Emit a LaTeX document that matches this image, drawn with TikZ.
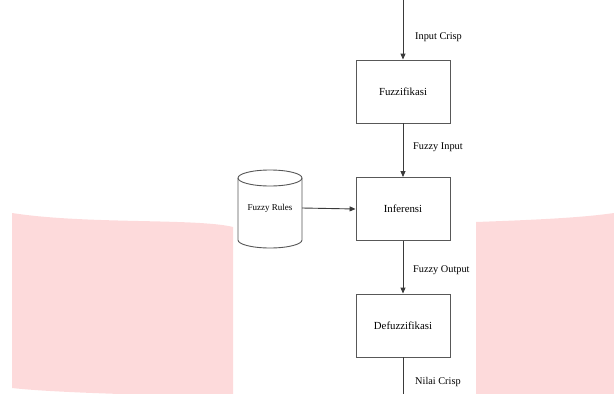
\documentclass[tikz,border=0pt]{standalone}
\usepackage{fontspec}
\setmainfont{Liberation Serif}
\usetikzlibrary{arrows.meta}
\definecolor{pinkbg}{HTML}{FDDADB}
\definecolor{lineg}{HTML}{3A3A3A}
\tikzset{
  procbox/.style={draw=lineg!85, line width=0.9pt, minimum width=94pt, minimum height=63pt, inner sep=0pt, font=\fontsize{10.8}{12}\selectfont},
  flow/.style={draw=lineg, line width=0.9pt, -{Triangle[length=6pt,width=5pt]}},
  plain/.style={draw=lineg, line width=0.9pt},
  lbl/.style={anchor=west, inner sep=0pt, font=\fontsize{10.3}{12}\selectfont}
}
\begin{document}
\begin{tikzpicture}[x=1pt,y=-1pt]
\useasboundingbox (0,0) rectangle (614,394);
% pink background shapes
\fill[pinkbg] (12,213) .. controls (70,222) and (150,220) .. (200,223) .. controls (215,224) and (225,225) .. (233,227) -- (233,394) -- (120,394) .. controls (60,392) and (30,390) .. (12,388) -- cycle;
\fill[pinkbg] (476,222) .. controls (530,220) and (580,218) .. (614,213) -- (614,394) -- (476,394) -- cycle;
% nodes
\node[procbox] (fuzz) at (403,91.5) {Fuzzifikasi};
\node[procbox] (inf) at (403,209) {Inferensi};
\node[procbox] (defuzz) at (403,325.5) {Defuzzifikasi};
\coordinate (top) at (403,0);
\coordinate (bot) at (403,394);
% cylinder
\fill[white] (238,178) -- (238,240) arc[start angle=180,end angle=360,x radius=32pt,y radius=8pt] -- (302,178) arc[start angle=0,end angle=180,x radius=32pt,y radius=8pt] -- cycle;
\draw[lineg!85, line width=0.9pt] (238,178) -- (238,240) arc[start angle=180,end angle=360,x radius=32pt,y radius=8pt] -- (302,178);
\draw[lineg!85, line width=0.9pt] (270,178) ellipse[x radius=32pt,y radius=8pt];
\node[minimum width=64pt, minimum height=20pt, inner sep=0pt, font=\fontsize{9}{10}\selectfont] (rules) at (270,208) {Fuzzy Rules};
% connectors
\draw[flow] (top) -- (fuzz.north);
\draw[flow] (fuzz.south) -- (inf.north);
\draw[flow] (inf.south) -- (defuzz.north);
\draw[plain] (defuzz.south) -- (bot);
\draw[flow] (rules.east) -- (inf.west);
% labels
\node[lbl] (l1) at (415,37) {Input Crisp};
\node[lbl] (l2) at (413,147) {Fuzzy Input};
\node[lbl] (l3) at (413,270) {Fuzzy Output};
\node[lbl] (l4) at (415,382) {Nilai Crisp};
\end{tikzpicture}
\end{document}
